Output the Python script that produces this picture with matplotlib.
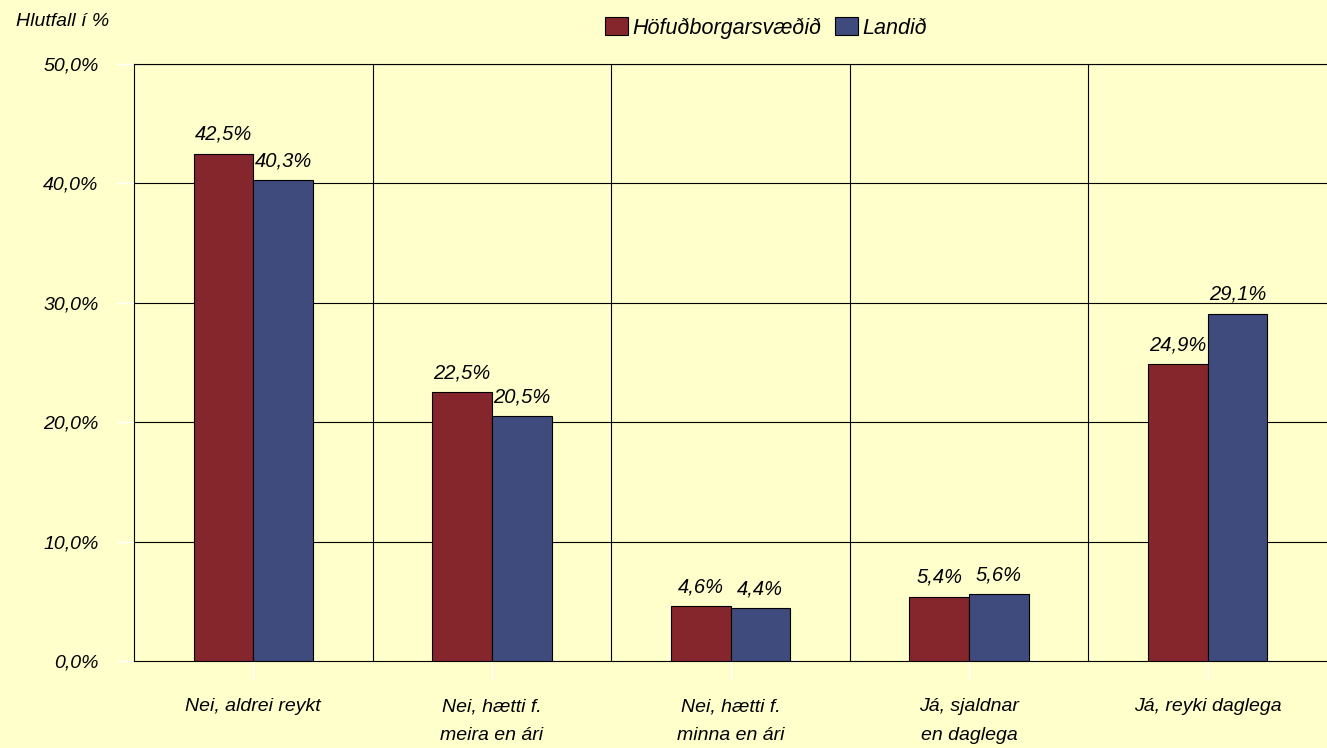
import matplotlib
matplotlib.use("Agg")
import matplotlib.pyplot as plt
import numpy as np

categories = ["Nei, aldrei reykt", "Nei, hætti f.\nmeira en ári", "Nei, hætti f.\nminna en ári",
              "Já, sjaldnar\nen daglega", "Já, reyki daglega"]
hofud = [42.5, 22.5, 4.6, 5.4, 24.9]
landid = [40.3, 20.5, 4.4, 5.6, 29.1]
series_names = ["Höfuðborgarsvæðið", "Landið"]

BG = "#FFFFCC"
RED = "#85262D"
BLUE = "#3F4A7D"
plt.rcParams["font.family"] = ["Liberation Sans", "DejaVu Sans"]
plt.rcParams["font.style"] = "italic"

fig = plt.figure(figsize=(13.27, 7.48), dpi=100, facecolor=BG)
ax = fig.add_axes([134 / 1327, 1 - 661 / 748, 1 - 134 / 1327, (661 - 64) / 748])
ax.set_facecolor(BG)

x = np.arange(len(categories))
w = 0.25
b1 = ax.bar(x - w / 2, hofud, w, color=RED, edgecolor="black", lw=0.8, zorder=3, label=series_names[0])
b2 = ax.bar(x + w / 2, landid, w, color=BLUE, edgecolor="black", lw=0.8, zorder=3, label=series_names[1])
for bars, vals in ((b1, hofud), (b2, landid)):
    for r, v in zip(bars, vals):
        ax.text(r.get_x() + r.get_width() / 2, v + 0.8, f"{v:.1f}%".replace(".", ","),
                ha="center", va="bottom", fontsize=14.5, style="italic")

ax.set_xlim(-0.5, 4.5)
ax.set_ylim(0, 50)
yt = np.arange(0, 51, 10)
ax.set_yticks(yt)
ax.set_yticklabels([f"{v:.1f}%".replace(".", ",") for v in yt], fontsize=14)
ax.set_xticks(x)
ax.set_xticklabels(categories, fontsize=14, linespacing=1.95)
ax.tick_params(axis="y", color="white", length=12.5, width=1, pad=13)
ax.tick_params(axis="x", color="white", length=13.7, width=1, pad=13)
for yv in yt[1:]:
    ax.axhline(yv, color="black", lw=0.8, zorder=1)
for xv in x[1:] - 0.5:
    ax.axvline(xv, color="black", lw=0.8, zorder=1)
for s in ("left", "bottom", "top"):
    ax.spines[s].set_color("black")
    ax.spines[s].set_linewidth(0.8)
ax.spines["right"].set_visible(False)

fig.text(16 / 1327, 1 - 21 / 748, "Hlutfall í %", fontsize=14, style="italic", va="center")
fig.legend(handles=[b1, b2], labels=series_names, loc="center", bbox_to_anchor=(766 / 1327, 1 - 28 / 748),
           ncol=2, frameon=False, fontsize=15.5, handlelength=1.1, handleheight=0.9,
           handletextpad=0.2, columnspacing=0.6)

fig.savefig("out.png", dpi=100, facecolor=BG)
